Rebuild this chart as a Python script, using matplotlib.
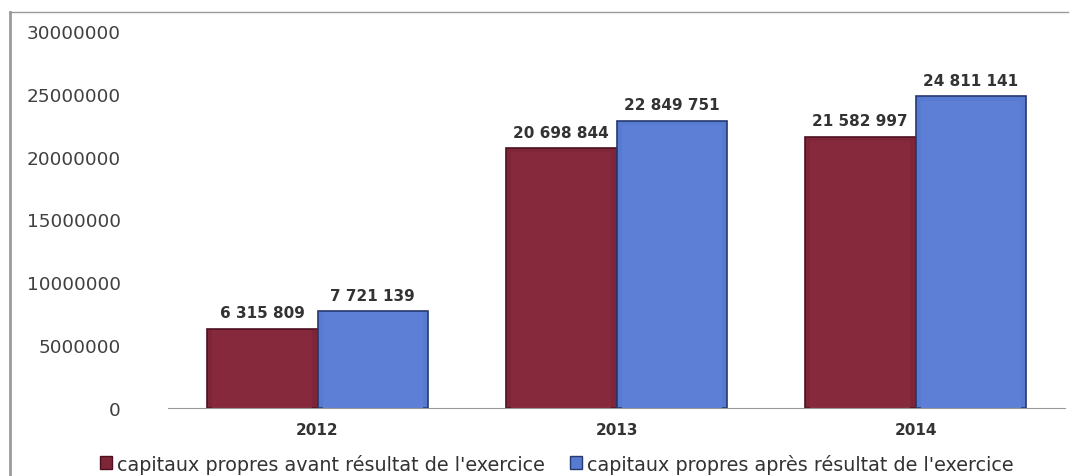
import matplotlib.pyplot as plt
from matplotlib.lines import Line2D
import numpy as np

years = ['2012', '2013', '2014']
avant = [6315809, 20698844, 21582997]
apres = [7721139, 22849751, 24811141]
labels = ["capitaux propres avant résultat de l'exercice",
          "capitaux propres après résultat de l'exercice"]

def fmt(v):
    return f"{v:,}".replace(",", " ")

fig = plt.figure(figsize=(10.73, 4.77), dpi=100)
ax = fig.add_axes([0.1566, 0.1426, 0.836, 0.7904])

x = np.arange(len(years))
w = 0.37
red = '#7e2537'
blue = '#587bd2'

b1 = ax.bar(x - w / 2, avant, w, color=red, edgecolor='#4e1020', linewidth=1.2, label=labels[0])
b2 = ax.bar(x + w / 2, apres, w, color=blue, edgecolor='#263870', linewidth=1.2, label=labels[1])

# slightly different inner face to fake the bevel
ax.bar(x - w / 2, [v * 0.985 for v in avant], w * 0.9, color='#86293c', linewidth=0)
ax.bar(x + w / 2, [v * 0.985 for v in apres], w * 0.9, color='#5d80d6', linewidth=0)

for bars, vals in ((b1, avant), (b2, apres)):
    for rect, v in zip(bars, vals):
        ax.annotate(fmt(v), (rect.get_x() + rect.get_width() / 2, v),
                    xytext=(0, 6), textcoords='offset points',
                    ha='center', va='bottom', fontsize=11, fontweight='bold', color='#333333')

ax.set_xlim(-0.5, 2.5)
ax.set_ylim(0, 30000000)
ax.set_yticks(range(0, 30000001, 5000000))
ax.set_yticklabels([str(v) for v in range(0, 30000001, 5000000)], fontsize=13.3, color='#404040')
ax.set_xticks(x)
ax.set_xticklabels(years, fontsize=11, fontweight='bold', color='#333333')
ax.tick_params(axis='y', length=0, pad=34)
ax.tick_params(axis='x', length=0, pad=10)
for s in ('top', 'right', 'left'):
    ax.spines[s].set_visible(False)
ax.spines['bottom'].set_color('#999999')

handles = [plt.Rectangle((0, 0), 1, 1, facecolor=red, edgecolor='#4e1020'),
           plt.Rectangle((0, 0), 1, 1, facecolor=blue, edgecolor='#263870')]
fig.legend(handles, labels, loc='center', bbox_to_anchor=(0.519, 0.026), ncol=2,
           frameon=False, fontsize=13.8, handlelength=0.65, handleheight=0.65,
           handletextpad=0.25, columnspacing=1.3, labelcolor='#333333')

# outer frame (top and left)
fig.add_artist(Line2D([10 / 1073, 1068 / 1073], [1 - 13 / 477, 1 - 13 / 477], color='#9a9a9a', lw=1))
fig.add_artist(Line2D([10 / 1073, 10 / 1073], [0, 1 - 13 / 477], color='#9a9a9a', lw=2))

fig.savefig('out.png', dpi=100)
